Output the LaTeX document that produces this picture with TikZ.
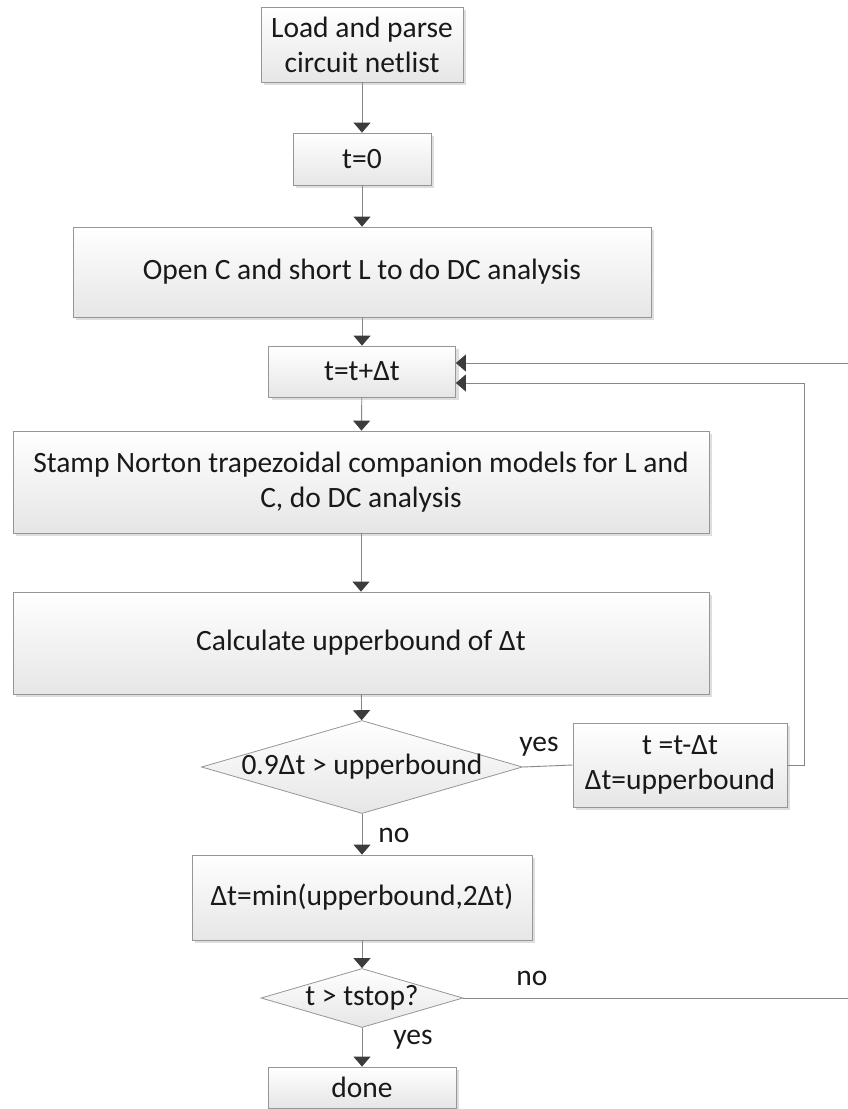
\documentclass[tikz,border=0pt]{standalone}
\usepackage{fontspec}
\setmainfont{Carlito}
\usetikzlibrary{shapes.geometric,arrows.meta,shadows}
\definecolor{boxline}{RGB}{150,150,150}
\definecolor{boxbot}{RGB}{230,230,230}
\definecolor{lineclr}{RGB}{135,135,135}
\definecolor{tipclr}{RGB}{60,60,60}
\definecolor{txt}{RGB}{25,25,25}
\newcommand\figfont{\fontsize{29.5}{35}\selectfont}
\begin{document}
\begin{tikzpicture}[x=1pt,y=-1pt,
  box/.style={draw=boxline, line width=0.8pt, top color=white, bottom color=boxbot,
    drop shadow={shadow xshift=3pt,shadow yshift=-3pt,fill=black,opacity=0.13},
    align=center, font=\figfont, text=txt, inner sep=2pt},
  dia/.style={diamond, draw=boxline, line width=0.8pt, top color=white, bottom color=boxbot,
    font=\figfont, text=txt, inner sep=0pt},
  arr/.style={draw=lineclr, line width=0.9pt, -{Triangle[width=17pt,length=10pt,color=tipclr]}},
  conn/.style={draw=lineclr, line width=0.9pt},
  lbl/.style={font=\figfont, text=txt, inner sep=0pt}]
\useasboundingbox[fill=white] (0,0) rectangle (848,1109);

\node[box, minimum width=202pt, minimum height=75pt] (n1) at (362,44.5) {Load and parse\\circuit netlist};
\node[box, minimum width=138pt, minimum height=52pt] (n2) at (362,159) {t=0};
\node[box, minimum width=578pt, minimum height=90pt] (n3) at (362,272) {Open C and short L to do DC analysis};
\node[box, minimum width=187pt, minimum height=51pt] (n4) at (362,371.5) {t=t+Δt};
\node[box, minimum width=696pt, minimum height=102pt] (n5) at (361,482) {Stamp Norton trapezoidal companion models for L and\\C, do DC analysis};
\node[box, minimum width=696pt, minimum height=102pt] (n6) at (361,643) {Calculate upperbound of Δt};
\node[dia, minimum width=321pt, minimum height=93pt] (d1) at (362,767) {\makebox[0pt]{0.9Δt > upperbound}};
\node[box, minimum width=214pt, minimum height=84pt] (n7) at (680,765) {t =t-Δt\\Δt=upperbound};
\node[box, minimum width=340pt, minimum height=85pt] (n8) at (362,897.5) {Δt=min(upperbound,2Δt)};
\node[dia, minimum width=202pt, minimum height=59pt] (d2) at (362,998) {\makebox[0pt]{t > tstop?}};
\node[box, minimum width=188pt, minimum height=41pt] (n9) at (362,1087.5) {done};

\node[lbl] (lyes1) at (539,747) {yes};
\node[lbl] (lno1) at (394,835) {no};
\node[lbl] (lno2) at (532,978) {no};
\node[lbl] (lyes2) at (413,1040) {yes};

\coordinate (in1) at ([yshift=8.5pt]n4.east);
\coordinate (in2) at ([yshift=-11.5pt]n4.east);
\coordinate (far) at (880,998);

\draw[arr] (n1) -- (n2);
\draw[arr] (n2) -- (n3);
\draw[arr] (n3) -- (n4);
\draw[arr] (n4) -- (n5);
\draw[arr] (n5) -- (n6);
\draw[arr] (n6) -- (d1);
\draw[arr] (d1) -- (n8);
\draw[arr] (n8) -- (d2);
\draw[arr] (d2) -- (n9);
\draw[conn] (d1.east) -- (n7.west);
\draw[arr] (n7.east) -- ++(17,0) |- (in2);
\draw[arr] (d2.east) -- (far) |- (in1);
\end{tikzpicture}
\end{document}
